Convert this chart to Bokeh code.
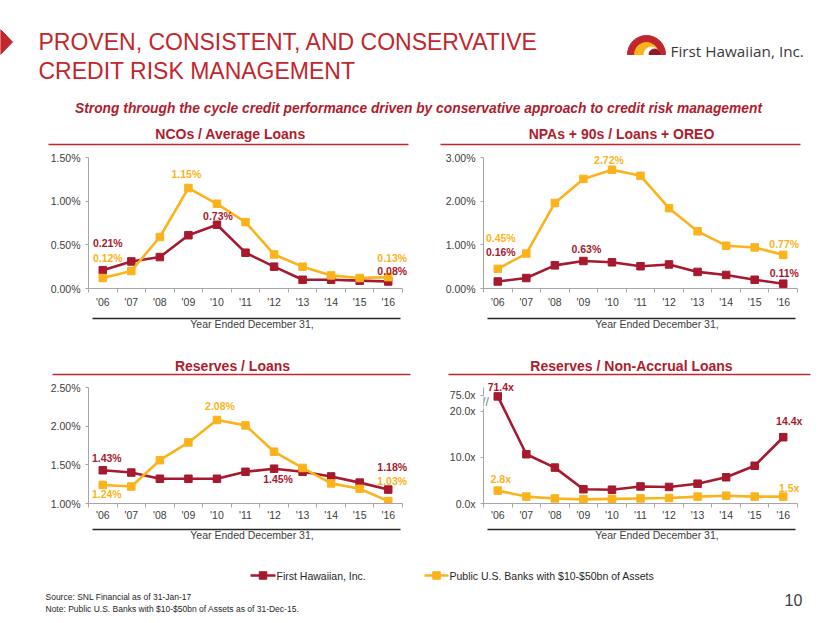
from bokeh.plotting import figure
from bokeh.layouts import column, row
from bokeh.models import (Range1d, LinearAxis, FixedTicker, PrintfTickFormatter,
                          ColumnDataSource, LabelSet, Label)
from bokeh.embed import file_html
from bokeh.resources import INLINE
from bokeh.core.properties import value

# ---------------- data ----------------
years = ["'06", "'07", "'08", "'09", "'10", "'11", "'12", "'13", "'14", "'15", "'16"]

nco_fhi = [0.21, 0.31, 0.36, 0.61, 0.73, 0.41, 0.25, 0.10, 0.10, 0.09, 0.08]
nco_peer = [0.12, 0.20, 0.59, 1.15, 0.97, 0.76, 0.39, 0.25, 0.15, 0.12, 0.13]

npa_fhi = [0.16, 0.24, 0.53, 0.63, 0.60, 0.51, 0.55, 0.38, 0.31, 0.20, 0.11]
npa_peer = [0.45, 0.80, 1.96, 2.51, 2.72, 2.58, 1.84, 1.31, 0.98, 0.94, 0.77]

res_fhi = [1.43, 1.40, 1.32, 1.32, 1.32, 1.41, 1.45, 1.41, 1.35, 1.27, 1.18]
res_peer = [1.24, 1.22, 1.56, 1.79, 2.08, 2.01, 1.67, 1.46, 1.26, 1.19, 1.03]

rna_fhi = [71.4, 10.7, 7.8, 3.1, 3.0, 3.7, 3.6, 4.3, 5.7, 8.2, 14.4]
rna_peer = [2.8, 1.5, 1.1, 0.9, 1.0, 1.1, 1.2, 1.5, 1.7, 1.5, 1.5]

series_names = ["First Hawaiian, Inc.", "Public U.S. Banks with $10-$50bn of Assets"]
chart_titles = ["NCOs / Average Loans", "NPAs + 90s / Loans + OREO",
                "Reserves / Loans", "Reserves / Non-Accrual Loans"]
x_title = "Year Ended December 31,"
page_title = ["PROVEN, CONSISTENT, AND CONSERVATIVE", "CREDIT RISK MANAGEMENT"]
subtitle = ("Strong through the cycle credit performance driven by conservative "
            "approach to credit risk management")
company = "First Hawaiian, Inc."
notes = ["Source: SNL Financial as of 31-Jan-17",
         "Note: Public U.S. Banks with $10-$50bn of Assets as of 31-Dec-15."]
page_no = "10"

# ---------------- style ----------------
RED = "#A6192E"
YEL = "#FBB31C"
TRED = "#C1272D"
HRED = "#B01C2E"
AX = "#A6A6A6"
TXT = "#404040"
FONT = "Liberation Sans"

BREAK_AT = 20.0
BREAK_K = 3.5 / 55.0


def broken(v):
    return v if v <= BREAK_AT else BREAK_AT + (v - BREAK_AT) * BREAK_K


def decor(w, h):
    p = figure(width=w, height=h, x_range=Range1d(0, w), y_range=Range1d(h, 0),
               output_backend="svg", toolbar_location=None, min_border=0,
               x_axis_location=None, y_axis_location=None)
    p.outline_line_color = None
    p.grid.visible = False
    p.background_fill_color = "white"
    return p


def make_chart(fhi, peer, yr, yticks, tick_fmt, lab_fmt, lab_fhi, lab_peer, geom,
               axis_fit, ytrans=None, overrides=None):
    # geom: figure size and pixel box of the axes inside the figure
    w, h, ax_l, ax_r, ax_t, ax_b = geom
    lab_standoff, pad_font, title_standoff = axis_fit
    n = len(years)
    xs = list(range(n))
    ux = (ax_r - ax_l) / n
    uy = (ax_b - ax_t) / (yr[1] - yr[0])
    x_end = -0.5 + (w - ax_l) / ux
    y_end = yr[0] + ax_b / uy
    p = figure(width=w, height=h, x_range=Range1d(-0.5, x_end),
               y_range=Range1d(yr[0], y_end),
               output_backend="svg", toolbar_location=None,
               min_border_left=ax_l, min_border_right=0, min_border_top=0,
               min_border_bottom=h - ax_b, x_axis_location=None, y_axis_location=None)
    p.outline_line_color = None
    p.grid.visible = False
    tr = ytrans or (lambda v: v)

    for vals, col in ((fhi, RED), (peer, YEL)):
        ys = [tr(v) for v in vals]
        src = ColumnDataSource(dict(x=xs, y=ys))
        p.line("x", "y", source=src, line_color=col, line_width=2.6)
        p.scatter("x", "y", source=src, marker="square", size=7.5,
                  fill_color=col, line_color=col)

    for vals, col, spec in ((fhi, RED, lab_fhi), (peer, YEL, lab_peer)):
        idx = sorted(spec)
        src = ColumnDataSource(dict(
            x=idx, y=[tr(vals[i]) for i in idx],
            text=[lab_fmt.format(vals[i]) for i in idx],
            dx=[spec[i][0] for i in idx], dy=[spec[i][1] for i in idx]))
        p.add_layout(LabelSet(x="x", y="y", text="text", x_offset="dx", y_offset="dy",
                              source=src, text_align="center", text_baseline="middle",
                              text_font=value(FONT), text_font_style="bold",
                              text_font_size="10.5px", text_color=col))

    xaxis = LinearAxis(
        ticker=FixedTicker(ticks=xs, minor_ticks=[i - 0.5 for i in range(n + 1)]),
        major_label_overrides={i: y for i, y in enumerate(years)},
        bounds=(-0.5, n - 0.5),
        axis_line_color=AX, axis_line_width=1,
        major_tick_out=0, major_tick_in=0,
        minor_tick_out=4, minor_tick_in=0, minor_tick_line_color=AX,
        major_label_standoff=lab_standoff,
        major_label_text_font=FONT, major_label_text_font_size="10.5px",
        major_label_text_color=TXT,
        axis_label="\u00a0", axis_label_standoff=0,
        axis_label_text_font_size=pad_font)
    p.add_layout(xaxis, "below")

    p.extra_x_ranges = {"base": Range1d(-0.5, x_end)}
    base = LinearAxis(
        x_range_name="base", ticker=FixedTicker(ticks=[]),
        bounds=(-0.5 + 4 / ux, -0.5 + 312 / ux),
        axis_line_color="#262626", axis_line_width=1.3,
        major_tick_out=0, major_tick_in=0, minor_tick_out=0, minor_tick_in=0,
        major_label_standoff=0, major_label_text_font_size="0px",
        axis_label=x_title, axis_label_standoff=title_standoff,
        axis_label_text_font=FONT, axis_label_text_font_style="normal",
        axis_label_text_font_size="10.5px", axis_label_text_color=TXT)
    p.add_layout(base, "below")

    yaxis = LinearAxis(
        ticker=FixedTicker(ticks=yticks), formatter=PrintfTickFormatter(format=tick_fmt),
        bounds=(yr[0], yr[1]),
        axis_line_color=AX, major_tick_out=3, major_tick_in=0,
        major_tick_line_color=AX, minor_tick_out=0, minor_tick_in=0,
        major_label_standoff=5,
        major_label_text_font=FONT, major_label_text_font_size="10.5px",
        major_label_text_color=TXT)
    if overrides:
        yaxis.major_label_overrides = overrides
    p.add_layout(yaxis, "left")
    return p


# ---------------- header ----------------
hdr = decor(830, 146)
hdr.patch(x=[0, 12, 0], y=[29, 41.5, 54], fill_color=TRED, line_color=TRED)
hdr.text(x=[38, 38], y=[41, 70], text=page_title, text_font=value(FONT),
         text_font_size="23px", text_color=TRED, text_baseline="middle")
# logo
PI = 3.14159
hdr.annular_wedge(x=[646], y=[54], inner_radius=12, outer_radius=19,
                  start_angle=0, end_angle=PI, color=TRED)
hdr.wedge(x=[646], y=[54], radius=12, start_angle=0, end_angle=PI, color=YEL)
hdr.wedge(x=[651], y=[54], radius=7.5, start_angle=0, end_angle=PI, color="white")
hdr.wedge(x=[654], y=[54], radius=5.5, start_angle=0, end_angle=PI, color="#8C1A24")
hdr.text(x=[670], y=[50], text=[company], text_font=value("Open Sans"),
         text_font_size="15.3px", text_color="#3b3b3b", text_baseline="middle")
hdr.text(x=[418], y=[108], text=[subtitle], text_font=value(FONT),
         text_font_style="bold italic", text_font_size="13.8px", text_color=HRED,
         text_align="center", text_baseline="middle")
hdr.text(x=[230, 621], y=[133, 133], text=chart_titles[:2], text_font=value(FONT),
         text_font_style="bold", text_font_size="14px", text_color=HRED,
         text_align="center", text_baseline="middle")
hdr.segment(x0=[48, 440], y0=[144, 144], x1=[408, 800], y1=[144, 144],
            line_color=TRED, line_width=1.5)

# ---------------- charts ----------------
ROW1_FIT = (3, "4px", -1)
ROW2_FIT = (1, "2.5px", -1)

c1 = make_chart(nco_fhi, nco_peer, (0, 1.5), [0, 0.5, 1.0, 1.5], "%.2f%%", "{:.2f}%",
                {0: (5, 27), 4: (1, 9), 10: (4, 11)},
                {0: (5, 20.5), 3: (-2, 14), 10: (4, 19.5)},
                (415, 188, 88, 402, 11, 142), ROW1_FIT)
c2 = make_chart(npa_fhi, npa_peer, (0, 3.0), [0, 1.0, 2.0, 3.0], "%.2f%%", "{:.2f}%",
                {0: (3, 30), 3: (3, 11.5), 10: (1, 11)},
                {0: (3, 31), 4: (-3, 10), 10: (1, 11)},
                (415, 188, 68, 382, 11, 142), ROW1_FIT)

mid = decor(830, 44)
mid.text(x=[232, 631], y=[31, 31], text=chart_titles[2:], text_font=value(FONT),
         text_font_style="bold", text_font_size="14px", text_color=HRED,
         text_align="center", text_baseline="middle")
mid.segment(x0=[52, 448], y0=[40, 40], x1=[410, 810], y1=[40, 40],
            line_color=TRED, line_width=1.5)

c3 = make_chart(res_fhi, res_peer, (1.0, 2.5), [1.0, 1.5, 2.0, 2.5], "%.2f%%", "{:.2f}%",
                {0: (4, 12), 6: (4, -10), 10: (4, 23)},
                {0: (4, -9), 4: (3, 13.5), 10: (4, 20)},
                (415, 167, 88, 402, 9, 125), ROW2_FIT)
c4 = make_chart(rna_fhi, rna_peer, (0, 25.2), [0, 10, 20, broken(75)], "%.1fx", "{:.1f}x",
                {0: (3, 9), 10: (6, 16)},
                {0: (3, 12), 10: (6, 9)},
                (415, 167, 68, 382, 9, 125), ROW2_FIT, ytrans=broken,
                overrides={broken(75): "75.0x"})
c4.add_layout(Label(x=-0.5, y=22.0, x_offset=2, text="//", text_align="center",
                    text_baseline="middle", text_font=FONT,
                    text_font_size="12px", text_color="#808080",
                    background_fill_color="white"))

# ---------------- footer ----------------
ftr = decor(830, 78)
ftr.segment(x0=[250, 424], y0=[30, 30], x1=[275, 448], y1=[30, 30],
            line_color=[RED, YEL], line_width=2.6)
ftr.scatter(x=[262.5, 436], y=[30, 30], marker="square", size=7.5,
            fill_color=[RED, YEL], line_color=[RED, YEL])
ftr.text(x=[276, 449], y=[30, 30], text=series_names, text_font=value(FONT),
         text_font_size="10.5px", text_color="#262626", text_baseline="middle")
ftr.text(x=[45, 45], y=[51, 63], text=notes, text_font=value(FONT),
         text_font_size="8.5px", text_color="#262626", text_baseline="middle")
ftr.text(x=[793], y=[54], text=[page_no], text_font=value(FONT),
         text_font_size="16px", text_color=TXT, text_align="center",
         text_baseline="middle")

layout = column(hdr, row(c1, c2, spacing=0), mid, row(c3, c4, spacing=0), ftr, spacing=0)
open("out.html", "w").write(file_html(layout, INLINE))
